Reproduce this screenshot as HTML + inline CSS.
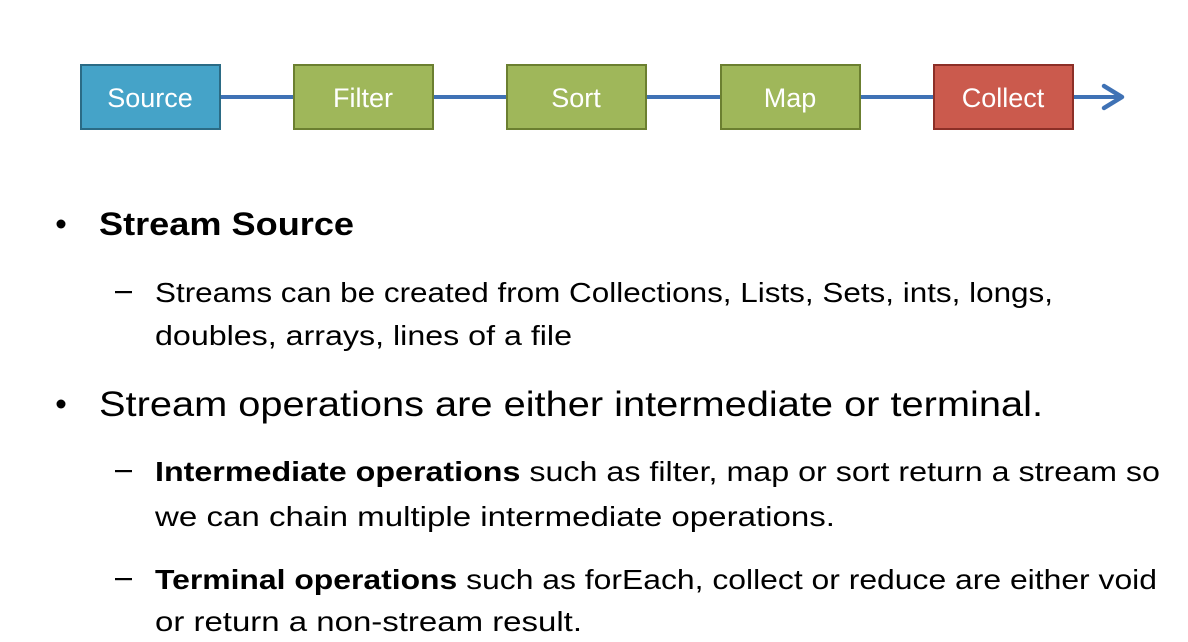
<!DOCTYPE html>
<html><head><meta charset="utf-8"><style>
html,body{margin:0;padding:0;background:#fff;}
svg{display:block;}
text{font-family:"Liberation Sans",sans-serif;fill:#000;}
.b{fill:#fff;font-size:27px;}
.s{font-size:28px;}
</style></head><body>
<svg width="1188" height="642" viewBox="0 0 1188 642" xmlns="http://www.w3.org/2000/svg">
<rect width="1188" height="642" fill="#fff"/>
<line x1="220" y1="97" x2="1118" y2="97" stroke="#3f72b5" stroke-width="4"/>
<polyline points="1104,86 1122,97 1104,108" fill="none" stroke="#3f72b5" stroke-width="4.5" stroke-linecap="round" stroke-linejoin="round"/>
<rect x="81" y="65" width="139" height="64" fill="#45a3c8" stroke="#2b6b85" stroke-width="2"/>
<rect x="294" y="65" width="139" height="64" fill="#9fb75a" stroke="#6b7f30" stroke-width="2"/>
<rect x="507" y="65" width="139" height="64" fill="#9fb75a" stroke="#6b7f30" stroke-width="2"/>
<rect x="721" y="65" width="139" height="64" fill="#9fb75a" stroke="#6b7f30" stroke-width="2"/>
<rect x="934" y="65" width="139" height="64" fill="#cb5a4d" stroke="#8c2f27" stroke-width="2"/>
<text class="b" x="150" y="107" text-anchor="middle">Source</text>
<text class="b" x="363" y="107" text-anchor="middle">Filter</text>
<text class="b" x="576" y="107" text-anchor="middle">Sort</text>
<text class="b" x="790" y="107" text-anchor="middle">Map</text>
<text class="b" x="1003" y="107" text-anchor="middle">Collect</text>

<circle cx="61" cy="224" r="4.5" fill="#000"/>
<text x="99" y="235" font-size="32" font-weight="bold" textLength="255" lengthAdjust="spacingAndGlyphs">Stream Source</text>
<rect x="115" y="291" width="17" height="2.2" fill="#000"/>
<text class="s" x="155" y="302" textLength="898" lengthAdjust="spacingAndGlyphs">Streams can be created from Collections, Lists, Sets, ints, longs,</text>
<text class="s" x="155" y="345" textLength="417" lengthAdjust="spacingAndGlyphs">doubles, arrays, lines of a file</text>

<circle cx="61" cy="404" r="4.5" fill="#000"/>
<text x="99" y="416" font-size="35" textLength="944" lengthAdjust="spacingAndGlyphs">Stream operations are either intermediate or terminal.</text>

<rect x="115" y="470" width="17" height="2.2" fill="#000"/>
<text class="s" x="155" y="481" textLength="1005" lengthAdjust="spacingAndGlyphs"><tspan font-weight="bold">Intermediate operations</tspan> such as filter, map or sort return a stream so</text>
<text class="s" x="155" y="526" textLength="680" lengthAdjust="spacingAndGlyphs">we can chain multiple intermediate operations.</text>

<rect x="115" y="578" width="17" height="2.2" fill="#000"/>
<text class="s" x="155" y="589" textLength="1002" lengthAdjust="spacingAndGlyphs"><tspan font-weight="bold">Terminal operations</tspan> such as forEach, collect or reduce are either void</text>
<text class="s" x="155" y="631" textLength="427" lengthAdjust="spacingAndGlyphs">or return a non-stream result.</text>
</svg>
</body></html>
